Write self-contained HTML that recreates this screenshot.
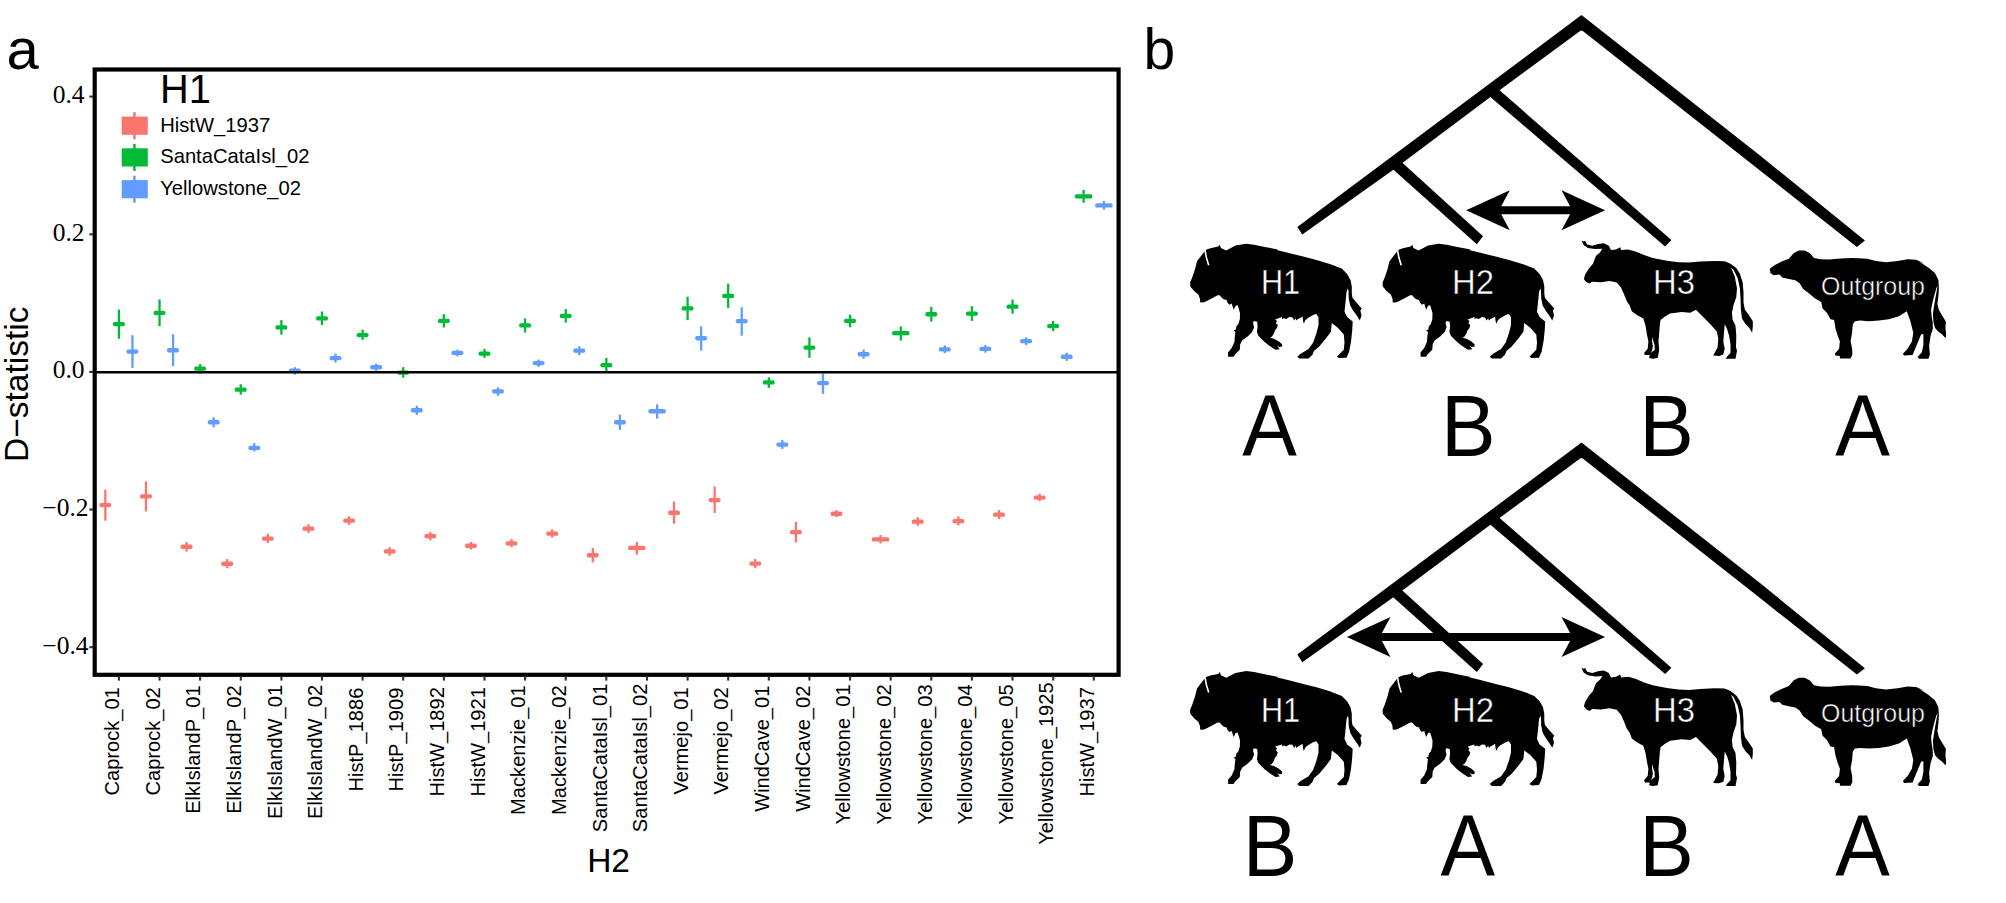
<!DOCTYPE html>
<html><head><meta charset="utf-8"><title>Figure</title>
<style>
html,body{margin:0;padding:0;background:#fff}
svg{display:block}
.san{font-family:"Liberation Sans",sans-serif}
.ser{font-family:"Liberation Serif",serif}
</style></head><body>
<svg width="2006" height="903" viewBox="0 0 2006 903">
<rect width="2006" height="903" fill="#fff"/>
<rect x="99.4" y="502.9" width="11.8" height="4.3" rx="1.6" fill="#F8766D"/>
<rect x="104.21" y="489.7" width="2.3" height="31.0" fill="#F8766D"/>
<rect x="113.0" y="322.0" width="11.8" height="4.3" rx="1.6" fill="#00BA38"/>
<rect x="117.75" y="309.6" width="2.3" height="29.2" fill="#00BA38"/>
<rect x="126.5" y="349.4" width="11.8" height="4.3" rx="1.6" fill="#619CFF"/>
<rect x="131.29" y="335.2" width="2.3" height="32.7" fill="#619CFF"/>
<rect x="140.1" y="494.2" width="11.8" height="4.3" rx="1.6" fill="#F8766D"/>
<rect x="144.83" y="481.5" width="2.3" height="30.0" fill="#F8766D"/>
<rect x="153.6" y="310.8" width="11.8" height="4.3" rx="1.6" fill="#00BA38"/>
<rect x="158.37" y="299.5" width="2.3" height="26.7" fill="#00BA38"/>
<rect x="167.1" y="348.1" width="11.8" height="4.3" rx="1.6" fill="#619CFF"/>
<rect x="171.91" y="334.2" width="2.3" height="31.8" fill="#619CFF"/>
<rect x="180.7" y="544.6" width="11.8" height="4.3" rx="1.6" fill="#F8766D"/>
<rect x="185.45" y="542.0" width="2.3" height="9.6" fill="#F8766D"/>
<rect x="194.2" y="366.4" width="11.8" height="4.3" rx="1.6" fill="#00BA38"/>
<rect x="198.99" y="364.1" width="2.3" height="9.5" fill="#00BA38"/>
<rect x="207.8" y="420.1" width="11.8" height="4.3" rx="1.6" fill="#619CFF"/>
<rect x="212.53" y="417.3" width="2.3" height="10.1" fill="#619CFF"/>
<rect x="221.3" y="561.6" width="11.8" height="4.3" rx="1.6" fill="#F8766D"/>
<rect x="226.07" y="559.1" width="2.3" height="9.1" fill="#F8766D"/>
<rect x="234.8" y="387.5" width="11.8" height="4.3" rx="1.6" fill="#00BA38"/>
<rect x="239.61" y="384.3" width="2.3" height="10.3" fill="#00BA38"/>
<rect x="248.4" y="445.8" width="11.8" height="4.3" rx="1.6" fill="#619CFF"/>
<rect x="253.15" y="443.2" width="2.3" height="8.2" fill="#619CFF"/>
<rect x="261.9" y="536.4" width="11.8" height="4.3" rx="1.6" fill="#F8766D"/>
<rect x="266.69" y="533.8" width="2.3" height="9.3" fill="#F8766D"/>
<rect x="275.5" y="325.2" width="11.8" height="4.3" rx="1.6" fill="#00BA38"/>
<rect x="280.23" y="320.1" width="2.3" height="14.5" fill="#00BA38"/>
<rect x="289.0" y="368.5" width="11.8" height="4.3" rx="1.6" fill="#619CFF"/>
<rect x="293.77" y="367.2" width="2.3" height="7.4" fill="#619CFF"/>
<rect x="302.5" y="526.5" width="11.8" height="4.3" rx="1.6" fill="#F8766D"/>
<rect x="307.31" y="524.2" width="2.3" height="8.7" fill="#F8766D"/>
<rect x="316.1" y="316.2" width="11.8" height="4.3" rx="1.6" fill="#00BA38"/>
<rect x="320.85" y="311.5" width="2.3" height="13.6" fill="#00BA38"/>
<rect x="329.6" y="355.9" width="11.8" height="4.3" rx="1.6" fill="#619CFF"/>
<rect x="334.39" y="353.6" width="2.3" height="9.0" fill="#619CFF"/>
<rect x="343.2" y="518.4" width="11.8" height="4.3" rx="1.6" fill="#F8766D"/>
<rect x="347.93" y="516.2" width="2.3" height="8.7" fill="#F8766D"/>
<rect x="356.7" y="332.9" width="11.8" height="4.3" rx="1.6" fill="#00BA38"/>
<rect x="361.47" y="329.6" width="2.3" height="10.3" fill="#00BA38"/>
<rect x="370.2" y="365.1" width="11.8" height="4.3" rx="1.6" fill="#619CFF"/>
<rect x="375.01" y="363.7" width="2.3" height="7.3" fill="#619CFF"/>
<rect x="383.8" y="549.2" width="11.8" height="4.3" rx="1.6" fill="#F8766D"/>
<rect x="388.55" y="547.2" width="2.3" height="8.6" fill="#F8766D"/>
<rect x="397.3" y="370.4" width="11.8" height="4.3" rx="1.6" fill="#00BA38"/>
<rect x="402.09" y="367.2" width="2.3" height="10.6" fill="#00BA38"/>
<rect x="410.9" y="408.1" width="11.8" height="4.3" rx="1.6" fill="#619CFF"/>
<rect x="415.63" y="405.8" width="2.3" height="9.0" fill="#619CFF"/>
<rect x="424.4" y="534.0" width="11.8" height="4.3" rx="1.6" fill="#F8766D"/>
<rect x="429.17" y="531.9" width="2.3" height="8.5" fill="#F8766D"/>
<rect x="437.9" y="318.8" width="11.8" height="4.3" rx="1.6" fill="#00BA38"/>
<rect x="442.71" y="314.2" width="2.3" height="13.3" fill="#00BA38"/>
<rect x="451.5" y="350.8" width="11.8" height="4.3" rx="1.6" fill="#619CFF"/>
<rect x="456.25" y="349.6" width="2.3" height="6.7" fill="#619CFF"/>
<rect x="465.0" y="543.6" width="11.8" height="4.3" rx="1.6" fill="#F8766D"/>
<rect x="469.79" y="542.0" width="2.3" height="7.5" fill="#F8766D"/>
<rect x="478.6" y="351.5" width="11.8" height="4.3" rx="1.6" fill="#00BA38"/>
<rect x="483.33" y="348.9" width="2.3" height="8.9" fill="#00BA38"/>
<rect x="492.1" y="389.2" width="11.8" height="4.3" rx="1.6" fill="#619CFF"/>
<rect x="496.87" y="387.4" width="2.3" height="8.3" fill="#619CFF"/>
<rect x="505.6" y="541.2" width="11.8" height="4.3" rx="1.6" fill="#F8766D"/>
<rect x="510.41" y="539.0" width="2.3" height="8.2" fill="#F8766D"/>
<rect x="519.2" y="323.2" width="11.8" height="4.3" rx="1.6" fill="#00BA38"/>
<rect x="523.95" y="318.4" width="2.3" height="14.1" fill="#00BA38"/>
<rect x="532.7" y="360.9" width="11.8" height="4.3" rx="1.6" fill="#619CFF"/>
<rect x="537.49" y="359.5" width="2.3" height="7.3" fill="#619CFF"/>
<rect x="546.3" y="531.5" width="11.8" height="4.3" rx="1.6" fill="#F8766D"/>
<rect x="551.03" y="529.3" width="2.3" height="8.3" fill="#F8766D"/>
<rect x="559.8" y="313.8" width="11.8" height="4.3" rx="1.6" fill="#00BA38"/>
<rect x="564.57" y="309.1" width="2.3" height="13.5" fill="#00BA38"/>
<rect x="573.3" y="348.5" width="11.8" height="4.3" rx="1.6" fill="#619CFF"/>
<rect x="578.11" y="346.2" width="2.3" height="8.8" fill="#619CFF"/>
<rect x="586.9" y="553.1" width="11.8" height="4.3" rx="1.6" fill="#F8766D"/>
<rect x="591.65" y="548.1" width="2.3" height="14.3" fill="#F8766D"/>
<rect x="600.4" y="363.0" width="11.8" height="4.3" rx="1.6" fill="#00BA38"/>
<rect x="605.19" y="358.0" width="2.3" height="13.7" fill="#00BA38"/>
<rect x="614.0" y="420.1" width="11.8" height="4.3" rx="1.6" fill="#619CFF"/>
<rect x="618.73" y="414.6" width="2.3" height="15.4" fill="#619CFF"/>
<rect x="628.1" y="545.8" width="17.4" height="4.3" rx="1.6" fill="#F8766D"/>
<rect x="635.65" y="541.7" width="2.3" height="12.9" fill="#F8766D"/>
<rect x="648.4" y="409.1" width="17.4" height="4.3" rx="1.6" fill="#619CFF"/>
<rect x="655.96" y="404.3" width="2.3" height="14.3" fill="#619CFF"/>
<rect x="668.1" y="510.6" width="11.8" height="4.3" rx="1.6" fill="#F8766D"/>
<rect x="672.89" y="501.5" width="2.3" height="22.2" fill="#F8766D"/>
<rect x="681.7" y="306.2" width="11.8" height="4.3" rx="1.6" fill="#00BA38"/>
<rect x="686.43" y="296.7" width="2.3" height="23.4" fill="#00BA38"/>
<rect x="695.2" y="336.1" width="11.8" height="4.3" rx="1.6" fill="#619CFF"/>
<rect x="699.97" y="326.4" width="2.3" height="24.2" fill="#619CFF"/>
<rect x="708.7" y="497.9" width="11.8" height="4.3" rx="1.6" fill="#F8766D"/>
<rect x="713.51" y="486.5" width="2.3" height="26.4" fill="#F8766D"/>
<rect x="722.3" y="293.8" width="11.8" height="4.3" rx="1.6" fill="#00BA38"/>
<rect x="727.05" y="283.7" width="2.3" height="24.2" fill="#00BA38"/>
<rect x="735.8" y="319.0" width="11.8" height="4.3" rx="1.6" fill="#619CFF"/>
<rect x="740.59" y="307.3" width="2.3" height="28.4" fill="#619CFF"/>
<rect x="749.4" y="561.4" width="11.8" height="4.3" rx="1.6" fill="#F8766D"/>
<rect x="754.13" y="558.9" width="2.3" height="9.3" fill="#F8766D"/>
<rect x="762.9" y="380.2" width="11.8" height="4.3" rx="1.6" fill="#00BA38"/>
<rect x="767.67" y="377.3" width="2.3" height="10.6" fill="#00BA38"/>
<rect x="776.4" y="442.4" width="11.8" height="4.3" rx="1.6" fill="#619CFF"/>
<rect x="781.21" y="440.1" width="2.3" height="8.8" fill="#619CFF"/>
<rect x="790.0" y="530.0" width="11.8" height="4.3" rx="1.6" fill="#F8766D"/>
<rect x="794.75" y="521.9" width="2.3" height="20.5" fill="#F8766D"/>
<rect x="803.5" y="345.4" width="11.8" height="4.3" rx="1.6" fill="#00BA38"/>
<rect x="808.29" y="337.4" width="2.3" height="20.4" fill="#00BA38"/>
<rect x="817.1" y="380.9" width="11.8" height="4.3" rx="1.6" fill="#619CFF"/>
<rect x="821.83" y="373.6" width="2.3" height="20.2" fill="#619CFF"/>
<rect x="830.6" y="511.6" width="11.8" height="4.3" rx="1.6" fill="#F8766D"/>
<rect x="835.37" y="510.1" width="2.3" height="7.1" fill="#F8766D"/>
<rect x="844.1" y="318.8" width="11.8" height="4.3" rx="1.6" fill="#00BA38"/>
<rect x="848.91" y="314.6" width="2.3" height="12.7" fill="#00BA38"/>
<rect x="857.7" y="352.1" width="11.8" height="4.3" rx="1.6" fill="#619CFF"/>
<rect x="862.45" y="349.6" width="2.3" height="9.2" fill="#619CFF"/>
<rect x="871.8" y="537.2" width="17.4" height="4.3" rx="1.6" fill="#F8766D"/>
<rect x="879.38" y="535.0" width="2.3" height="8.4" fill="#F8766D"/>
<rect x="892.1" y="331.0" width="17.4" height="4.3" rx="1.6" fill="#00BA38"/>
<rect x="899.68" y="326.4" width="2.3" height="14.1" fill="#00BA38"/>
<rect x="911.8" y="519.5" width="11.8" height="4.3" rx="1.6" fill="#F8766D"/>
<rect x="916.61" y="517.2" width="2.3" height="8.6" fill="#F8766D"/>
<rect x="925.4" y="312.1" width="11.8" height="4.3" rx="1.6" fill="#00BA38"/>
<rect x="930.15" y="306.8" width="2.3" height="14.8" fill="#00BA38"/>
<rect x="938.9" y="347.2" width="11.8" height="4.3" rx="1.6" fill="#619CFF"/>
<rect x="943.69" y="345.4" width="2.3" height="7.7" fill="#619CFF"/>
<rect x="952.5" y="519.0" width="11.8" height="4.3" rx="1.6" fill="#F8766D"/>
<rect x="957.23" y="516.4" width="2.3" height="9.0" fill="#F8766D"/>
<rect x="966.0" y="311.5" width="11.8" height="4.3" rx="1.6" fill="#00BA38"/>
<rect x="970.77" y="306.2" width="2.3" height="14.7" fill="#00BA38"/>
<rect x="979.5" y="346.8" width="11.8" height="4.3" rx="1.6" fill="#619CFF"/>
<rect x="984.31" y="345.1" width="2.3" height="7.6" fill="#619CFF"/>
<rect x="993.1" y="512.5" width="11.8" height="4.3" rx="1.6" fill="#F8766D"/>
<rect x="997.85" y="510.1" width="2.3" height="8.9" fill="#F8766D"/>
<rect x="1006.6" y="304.5" width="11.8" height="4.3" rx="1.6" fill="#00BA38"/>
<rect x="1011.39" y="299.5" width="2.3" height="14.3" fill="#00BA38"/>
<rect x="1020.2" y="339.0" width="11.8" height="4.3" rx="1.6" fill="#619CFF"/>
<rect x="1024.93" y="337.4" width="2.3" height="7.7" fill="#619CFF"/>
<rect x="1033.7" y="495.4" width="11.8" height="4.3" rx="1.6" fill="#F8766D"/>
<rect x="1038.47" y="493.7" width="2.3" height="7.5" fill="#F8766D"/>
<rect x="1047.2" y="323.9" width="11.8" height="4.3" rx="1.6" fill="#00BA38"/>
<rect x="1052.01" y="320.9" width="2.3" height="10.1" fill="#00BA38"/>
<rect x="1060.8" y="354.6" width="11.8" height="4.3" rx="1.6" fill="#619CFF"/>
<rect x="1065.55" y="352.7" width="2.3" height="8.2" fill="#619CFF"/>
<rect x="1074.9" y="194.3" width="17.4" height="4.3" rx="1.6" fill="#00BA38"/>
<rect x="1082.47" y="189.9" width="2.3" height="12.9" fill="#00BA38"/>
<rect x="1095.2" y="203.2" width="17.4" height="4.3" rx="1.6" fill="#619CFF"/>
<rect x="1102.78" y="200.9" width="2.3" height="8.7" fill="#619CFF"/>
<line x1="95" y1="372.3" x2="1118" y2="372.3" stroke="#000" stroke-width="2.6"/>
<rect x="94.7" y="69.5" width="1023.9" height="605.3" fill="none" stroke="#000" stroke-width="4.2"/>
<line x1="89.3" y1="96.6" x2="93" y2="96.6" stroke="#333" stroke-width="2.1"/>
<text x="84.5" y="103.1" text-anchor="end" class="ser" font-size="25.5">0.4</text>
<line x1="89.3" y1="234.3" x2="93" y2="234.3" stroke="#333" stroke-width="2.1"/>
<text x="84.5" y="240.8" text-anchor="end" class="ser" font-size="25.5">0.2</text>
<line x1="89.3" y1="371.9" x2="93" y2="371.9" stroke="#333" stroke-width="2.1"/>
<text x="84.5" y="378.4" text-anchor="end" class="ser" font-size="25.5">0.0</text>
<line x1="89.3" y1="509.5" x2="93" y2="509.5" stroke="#333" stroke-width="2.1"/>
<text x="88.6" y="516.0" text-anchor="end" class="ser" font-size="25.5">−0.2</text>
<line x1="89.3" y1="647.2" x2="93" y2="647.2" stroke="#333" stroke-width="2.1"/>
<text x="88.6" y="653.7" text-anchor="end" class="ser" font-size="25.5">−0.4</text>
<line x1="118.9" y1="676.5" x2="118.9" y2="680.6" stroke="#333" stroke-width="2.1"/>
<text transform="translate(119.1,687.2) rotate(-90)" text-anchor="end" class="san" font-size="20.1">Caprock_01</text>
<line x1="159.5" y1="676.5" x2="159.5" y2="680.6" stroke="#333" stroke-width="2.1"/>
<text transform="translate(159.7,687.2) rotate(-90)" text-anchor="end" class="san" font-size="20.1">Caprock_02</text>
<line x1="200.1" y1="676.5" x2="200.1" y2="680.6" stroke="#333" stroke-width="2.1"/>
<text transform="translate(200.3,685.4) rotate(-90)" text-anchor="end" class="san" font-size="20.1">ElkIslandP_01</text>
<line x1="240.8" y1="676.5" x2="240.8" y2="680.6" stroke="#333" stroke-width="2.1"/>
<text transform="translate(241.0,685.4) rotate(-90)" text-anchor="end" class="san" font-size="20.1">ElkIslandP_02</text>
<line x1="281.4" y1="676.5" x2="281.4" y2="680.6" stroke="#333" stroke-width="2.1"/>
<text transform="translate(281.6,684.9) rotate(-90)" text-anchor="end" class="san" font-size="20.1">ElkIslandW_01</text>
<line x1="322.0" y1="676.5" x2="322.0" y2="680.6" stroke="#333" stroke-width="2.1"/>
<text transform="translate(322.2,684.9) rotate(-90)" text-anchor="end" class="san" font-size="20.1">ElkIslandW_02</text>
<line x1="362.6" y1="676.5" x2="362.6" y2="680.6" stroke="#333" stroke-width="2.1"/>
<text transform="translate(362.8,687.6) rotate(-90)" text-anchor="end" class="san" font-size="20.1">HistP_1886</text>
<line x1="403.2" y1="676.5" x2="403.2" y2="680.6" stroke="#333" stroke-width="2.1"/>
<text transform="translate(403.4,687.6) rotate(-90)" text-anchor="end" class="san" font-size="20.1">HistP_1909</text>
<line x1="443.9" y1="676.5" x2="443.9" y2="680.6" stroke="#333" stroke-width="2.1"/>
<text transform="translate(444.1,687.1) rotate(-90)" text-anchor="end" class="san" font-size="20.1">HistW_1892</text>
<line x1="484.5" y1="676.5" x2="484.5" y2="680.6" stroke="#333" stroke-width="2.1"/>
<text transform="translate(484.7,687.1) rotate(-90)" text-anchor="end" class="san" font-size="20.1">HistW_1921</text>
<line x1="525.1" y1="676.5" x2="525.1" y2="680.6" stroke="#333" stroke-width="2.1"/>
<text transform="translate(525.3,685.3) rotate(-90)" text-anchor="end" class="san" font-size="20.1">Mackenzie_01</text>
<line x1="565.7" y1="676.5" x2="565.7" y2="680.6" stroke="#333" stroke-width="2.1"/>
<text transform="translate(565.9,685.3) rotate(-90)" text-anchor="end" class="san" font-size="20.1">Mackenzie_02</text>
<line x1="606.3" y1="676.5" x2="606.3" y2="680.6" stroke="#333" stroke-width="2.1"/>
<text transform="translate(606.5,683.6) rotate(-90)" text-anchor="end" class="san" font-size="20.1">SantaCataIsl_01</text>
<line x1="647.0" y1="676.5" x2="647.0" y2="680.6" stroke="#333" stroke-width="2.1"/>
<text transform="translate(647.2,683.6) rotate(-90)" text-anchor="end" class="san" font-size="20.1">SantaCataIsl_02</text>
<line x1="687.6" y1="676.5" x2="687.6" y2="680.6" stroke="#333" stroke-width="2.1"/>
<text transform="translate(687.8,687.3) rotate(-90)" text-anchor="end" class="san" font-size="20.1">Vermejo_01</text>
<line x1="728.2" y1="676.5" x2="728.2" y2="680.6" stroke="#333" stroke-width="2.1"/>
<text transform="translate(728.4,687.3) rotate(-90)" text-anchor="end" class="san" font-size="20.1">Vermejo_02</text>
<line x1="768.8" y1="676.5" x2="768.8" y2="680.6" stroke="#333" stroke-width="2.1"/>
<text transform="translate(769.0,685.6) rotate(-90)" text-anchor="end" class="san" font-size="20.1">WindCave_01</text>
<line x1="809.4" y1="676.5" x2="809.4" y2="680.6" stroke="#333" stroke-width="2.1"/>
<text transform="translate(809.6,685.6) rotate(-90)" text-anchor="end" class="san" font-size="20.1">WindCave_02</text>
<line x1="850.1" y1="676.5" x2="850.1" y2="680.6" stroke="#333" stroke-width="2.1"/>
<text transform="translate(850.3,684.4) rotate(-90)" text-anchor="end" class="san" font-size="20.1">Yellowstone_01</text>
<line x1="890.7" y1="676.5" x2="890.7" y2="680.6" stroke="#333" stroke-width="2.1"/>
<text transform="translate(890.9,684.4) rotate(-90)" text-anchor="end" class="san" font-size="20.1">Yellowstone_02</text>
<line x1="931.3" y1="676.5" x2="931.3" y2="680.6" stroke="#333" stroke-width="2.1"/>
<text transform="translate(931.5,684.4) rotate(-90)" text-anchor="end" class="san" font-size="20.1">Yellowstone_03</text>
<line x1="971.9" y1="676.5" x2="971.9" y2="680.6" stroke="#333" stroke-width="2.1"/>
<text transform="translate(972.1,684.4) rotate(-90)" text-anchor="end" class="san" font-size="20.1">Yellowstone_04</text>
<line x1="1012.5" y1="676.5" x2="1012.5" y2="680.6" stroke="#333" stroke-width="2.1"/>
<text transform="translate(1012.7,684.4) rotate(-90)" text-anchor="end" class="san" font-size="20.1">Yellowstone_05</text>
<line x1="1053.2" y1="676.5" x2="1053.2" y2="680.6" stroke="#333" stroke-width="2.1"/>
<text transform="translate(1053.4,682.4) rotate(-90)" text-anchor="end" class="san" font-size="20.1">Yellowstone_1925</text>
<line x1="1093.8" y1="676.5" x2="1093.8" y2="680.6" stroke="#333" stroke-width="2.1"/>
<text transform="translate(1094.0,687.1) rotate(-90)" text-anchor="end" class="san" font-size="20.1">HistW_1937</text>
<text transform="translate(28.4,384.3) rotate(-90)" text-anchor="middle" class="san" font-size="33.5">D−statistic</text>
<text x="608.6" y="871.8" text-anchor="middle" class="san" font-size="33.6">H2</text>
<text x="6.5" y="69" class="san" font-size="58">a</text>
<text x="1143.5" y="68.5" class="san" font-size="57">b</text>
<text x="159.9" y="103.4" class="san" font-size="39.8">H1</text>
<rect x="121.7" y="116.6" width="26.1" height="18.2" fill="#F8766D"/>
<rect x="133.2" y="112.2" width="2.5" height="27" fill="#F8766D"/>
<text x="160.2" y="131.7" class="san" font-size="20.2">HistW_1937</text>
<rect x="121.7" y="148.3" width="26.1" height="18.2" fill="#00BA38"/>
<rect x="133.2" y="143.9" width="2.5" height="27" fill="#00BA38"/>
<text x="160.2" y="163.4" class="san" font-size="20.2">SantaCataIsl_02</text>
<rect x="121.7" y="180.1" width="26.1" height="18.2" fill="#619CFF"/>
<rect x="133.2" y="175.7" width="2.5" height="27" fill="#619CFF"/>
<text x="160.2" y="195.2" class="san" font-size="20.2">Yellowstone_02</text>
<g fill="#000">
<path d="M1581.5 15.0 L1297.3 227.0 L1302.3 234.6 L1393.0 169.9 L1490.4 97.1 L1581.5 29.9Z" />
<path d="M1581.5 15.0 L1760.0 155.5 L1864.9 240.6 L1856.9 247.0 L1760.0 170.5 L1581.5 29.9Z" />
<path d="M1580.5 15.8 L1582.5 15.8 L1582.5 30.6 L1580.5 30.6Z" />
<path d="M1402.1 162.6 L1483.1 236.3 L1476.8 244.3 L1393.2 169.6 L1393.0 164.0Z" />
<path d="M1499.3 90.1 L1671.4 240.1 L1665.1 246.4 L1490.4 97.1 L1492.0 90.0Z" />
<path d="M1205.6 250.0 L1210.3 248.2 L1218.2 246.6 L1219.8 244.7 L1220.9 248.0 L1226.2 250.4 L1235.5 245.6 L1246.2 243.7 L1254.1 244.8 L1264.8 246.9 L1278.1 249.6 L1276.6 250.0 L1289.9 253.3 L1303.2 256.6 L1316.5 259.9 L1329.8 263.9 L1341.8 268.6 L1347.1 273.9 L1350.5 279.9 L1351.8 286.5 L1351.8 293.2 L1352.4 297.8 L1356.4 302.5 L1361.8 308.5 L1360.4 310.5 L1361.5 315.8 L1359.8 320.5 L1357.1 316.1 L1353.1 310.5 L1350.2 305.4 L1348.7 298.5 L1348.5 290.5 L1347.8 288.5 L1346.5 291.9 L1345.8 299.8 L1344.5 311.8 L1347.1 317.1 L1352.7 321.4 L1352.2 330.4 L1351.1 341.1 L1349.1 351.7 L1346.5 357.7 L1339.1 358.1 L1336.9 356.8 L1340.5 353.0 L1343.8 349.7 L1344.5 342.4 L1343.8 334.4 L1337.8 327.8 L1331.8 323.1 L1330.9 331.8 L1325.9 338.4 L1319.2 346.4 L1313.9 351.0 L1312.6 354.4 L1308.6 358.6 L1299.3 358.6 L1297.3 356.8 L1300.6 353.7 L1308.6 349.0 L1313.2 342.4 L1316.5 333.1 L1318.5 325.1 L1318.5 317.1 L1316.5 314.2 L1315.8 314.0 L1312.7 315.2 L1308.0 317.9 L1305.3 320.2 L1303.8 323.7 L1303.0 320.6 L1302.6 316.4 L1300.3 317.9 L1297.9 319.1 L1296.4 320.6 L1295.6 318.3 L1294.1 320.6 L1292.5 317.5 L1289.4 317.1 L1286.3 319.1 L1284.0 318.3 L1282.4 319.1 L1281.7 317.1 L1279.3 317.9 L1277.0 318.8 L1275.1 319.5 L1277.0 321.0 L1275.9 323.3 L1277.8 324.9 L1277.0 328.0 L1275.1 330.3 L1273.9 333.4 L1272.0 336.5 L1270.0 337.7 L1273.9 338.8 L1278.6 341.2 L1282.1 344.3 L1282.1 346.6 L1279.3 347.0 L1277.0 345.4 L1279.7 349.3 L1275.5 349.7 L1269.3 345.8 L1264.6 341.9 L1258.4 335.7 L1256.9 331.9 L1257.6 326.4 L1257.2 321.8 L1253.8 321.0 L1253.0 322.9 L1254.1 327.2 L1252.2 331.9 L1247.6 336.5 L1242.1 340.4 L1240.2 344.3 L1239.8 349.7 L1235.2 354.3 L1233.6 356.7 L1228.2 356.8 L1228.0 352.4 L1231.7 348.1 L1234.4 341.9 L1235.0 335.0 L1235.5 331.9 L1233.6 330.3 L1235.9 329.5 L1236.3 326.4 L1238.3 324.1 L1239.8 319.5 L1240.0 313.3 L1239.0 309.4 L1237.5 305.1 L1235.5 305.9 L1233.6 309.8 L1231.7 303.6 L1229.3 304.7 L1227.4 302.4 L1226.6 300.1 L1223.5 299.3 L1221.6 297.4 L1219.7 295.3 L1217.6 295.2 L1211.6 298.5 L1204.3 302.2 L1200.3 302.5 L1199.9 298.5 L1198.3 294.5 L1194.3 291.2 L1190.3 286.5 L1190.1 282.6 L1192.3 277.2 L1195.0 269.3 L1197.0 261.3 L1201.0 256.0Z" />
<path d="M1398.1 250.0 L1402.8 248.2 L1410.7 246.6 L1412.3 244.7 L1413.4 248.0 L1418.7 250.4 L1428.0 245.6 L1438.7 243.7 L1446.6 244.8 L1457.3 246.9 L1470.6 249.6 L1469.1 250.0 L1482.4 253.3 L1495.7 256.6 L1509.0 259.9 L1522.3 263.9 L1534.3 268.6 L1539.6 273.9 L1543.0 279.9 L1544.3 286.5 L1544.3 293.2 L1544.9 297.8 L1548.9 302.5 L1554.3 308.5 L1552.9 310.5 L1554.0 315.8 L1552.3 320.5 L1549.6 316.1 L1545.6 310.5 L1542.7 305.4 L1541.2 298.5 L1541.0 290.5 L1540.3 288.5 L1539.0 291.9 L1538.3 299.8 L1537.0 311.8 L1539.6 317.1 L1545.2 321.4 L1544.7 330.4 L1543.6 341.1 L1541.6 351.7 L1539.0 357.7 L1531.6 358.1 L1529.4 356.8 L1533.0 353.0 L1536.3 349.7 L1537.0 342.4 L1536.3 334.4 L1530.3 327.8 L1524.3 323.1 L1523.4 331.8 L1518.4 338.4 L1511.7 346.4 L1506.4 351.0 L1505.1 354.4 L1501.1 358.6 L1491.8 358.6 L1489.8 356.8 L1493.1 353.7 L1501.1 349.0 L1505.7 342.4 L1509.0 333.1 L1511.0 325.1 L1511.0 317.1 L1509.0 314.2 L1508.3 314.0 L1505.2 315.2 L1500.5 317.9 L1497.8 320.2 L1496.3 323.7 L1495.5 320.6 L1495.1 316.4 L1492.8 317.9 L1490.4 319.1 L1488.9 320.6 L1488.1 318.3 L1486.6 320.6 L1485.0 317.5 L1481.9 317.1 L1478.8 319.1 L1476.5 318.3 L1474.9 319.1 L1474.2 317.1 L1471.8 317.9 L1469.5 318.8 L1467.6 319.5 L1469.5 321.0 L1468.4 323.3 L1470.3 324.9 L1469.5 328.0 L1467.6 330.3 L1466.4 333.4 L1464.5 336.5 L1462.5 337.7 L1466.4 338.8 L1471.1 341.2 L1474.6 344.3 L1474.6 346.6 L1471.8 347.0 L1469.5 345.4 L1472.2 349.3 L1468.0 349.7 L1461.8 345.8 L1457.1 341.9 L1450.9 335.7 L1449.4 331.9 L1450.1 326.4 L1449.7 321.8 L1446.3 321.0 L1445.5 322.9 L1446.6 327.2 L1444.7 331.9 L1440.1 336.5 L1434.6 340.4 L1432.7 344.3 L1432.3 349.7 L1427.7 354.3 L1426.1 356.7 L1420.7 356.8 L1420.5 352.4 L1424.2 348.1 L1426.9 341.9 L1427.5 335.0 L1428.0 331.9 L1426.1 330.3 L1428.4 329.5 L1428.8 326.4 L1430.8 324.1 L1432.3 319.5 L1432.5 313.3 L1431.5 309.4 L1430.0 305.1 L1428.0 305.9 L1426.1 309.8 L1424.2 303.6 L1421.8 304.7 L1419.9 302.4 L1419.1 300.1 L1416.0 299.3 L1414.1 297.4 L1412.2 295.3 L1410.1 295.2 L1404.1 298.5 L1396.8 302.2 L1392.8 302.5 L1392.4 298.5 L1390.8 294.5 L1386.8 291.2 L1382.8 286.5 L1382.6 282.6 L1384.8 277.2 L1387.5 269.3 L1389.5 261.3 L1393.5 256.0Z" />
<path d="M1581.5 240.5 L1583.6 241.5 L1585.1 240.8 L1587.2 244.4 L1592.3 245.8 L1598.0 243.9 L1603.8 243.3 L1608.8 245.8 L1611.0 250.1 L1616.0 249.4 L1620.3 247.2 L1621.0 250.1 L1628.2 249.4 L1635.4 251.5 L1644.1 255.1 L1652.7 258.0 L1664.2 260.2 L1668.6 260.9 L1678.7 262.3 L1688.8 262.6 L1700.3 261.6 L1714.7 260.9 L1724.7 261.3 L1730.5 263.8 L1736.3 268.1 L1739.9 273.8 L1742.7 282.5 L1743.5 292.6 L1743.5 302.6 L1744.9 309.8 L1749.2 315.6 L1752.8 321.3 L1752.8 327.1 L1752.1 332.8 L1749.2 327.8 L1745.6 324.2 L1742.0 318.5 L1740.9 309.8 L1740.6 299.7 L1739.9 288.2 L1737.7 278.2 L1733.4 269.5 L1730.5 267.4 L1731.9 269.5 L1734.8 276.7 L1737.0 288.2 L1736.3 296.9 L1733.4 305.5 L1731.9 312.7 L1732.7 319.9 L1735.5 325.6 L1736.3 335.7 L1736.0 347.2 L1737.0 350.8 L1735.5 358.7 L1725.5 358.7 L1727.6 355.9 L1730.5 353.0 L1730.5 344.4 L1729.1 335.7 L1726.9 328.5 L1724.7 324.2 L1724.0 332.8 L1723.3 341.5 L1724.7 348.7 L1723.3 354.4 L1719.0 355.9 L1713.2 355.6 L1715.4 351.5 L1717.6 347.2 L1718.3 338.6 L1716.8 331.4 L1710.4 324.2 L1703.2 317.0 L1696.0 309.8 L1690.2 312.7 L1681.6 312.0 L1670.1 313.4 L1664.3 317.0 L1660.6 319.9 L1659.9 324.2 L1659.2 332.8 L1658.5 341.5 L1659.2 350.1 L1657.7 358.0 L1652.7 358.7 L1649.1 358.0 L1649.8 355.1 L1644.8 355.1 L1644.1 353.0 L1647.7 348.7 L1648.4 341.5 L1646.9 334.3 L1645.5 325.6 L1643.3 318.5 L1636.9 314.9 L1631.8 311.3 L1629.7 305.5 L1626.8 301.2 L1623.9 294.0 L1621.0 287.5 L1616.7 282.5 L1609.5 281.0 L1600.9 282.2 L1592.3 281.8 L1589.4 283.6 L1585.8 281.8 L1583.9 278.9 L1585.1 274.6 L1588.7 268.8 L1593.0 263.8 L1595.9 255.9 L1600.2 252.3 L1602.3 248.7 L1595.1 249.1 L1587.9 247.9 L1583.6 245.1Z" />
<path d="M1769.8 268.8 L1774.4 265.2 L1781.6 261.6 L1788.8 258.7 L1793.8 253.0 L1798.8 250.5 L1804.6 250.5 L1809.6 253.0 L1814.0 258.0 L1820.4 259.2 L1829.1 259.5 L1840.6 258.5 L1852.1 258.0 L1858.6 258.3 L1867.3 258.7 L1875.9 260.9 L1886.0 262.3 L1897.5 260.9 L1907.6 259.2 L1916.2 259.7 L1924.8 263.8 L1919.9 262.0 L1928.9 268.0 L1934.9 273.0 L1938.4 279.9 L1938.9 287.9 L1938.4 295.9 L1937.4 303.9 L1938.9 309.9 L1942.9 316.8 L1945.9 321.8 L1945.4 327.8 L1946.1 333.8 L1945.7 338.3 L1941.9 334.3 L1937.9 331.3 L1934.9 327.8 L1933.4 321.8 L1932.9 313.8 L1933.9 306.9 L1935.4 297.9 L1936.9 289.9 L1937.7 286.1 L1936.4 287.9 L1934.4 294.9 L1932.4 302.9 L1931.1 309.9 L1931.7 316.8 L1932.7 322.8 L1932.9 328.8 L1930.6 335.7 L1929.1 345.8 L1929.9 354.4 L1928.4 358.7 L1919.1 358.7 L1917.6 357.0 L1921.9 352.3 L1923.4 344.4 L1923.4 334.3 L1921.2 334.3 L1917.6 342.9 L1914.0 351.5 L1912.6 355.1 L1904.0 355.6 L1902.9 353.7 L1907.6 348.7 L1911.9 341.5 L1913.3 332.8 L1910.4 321.3 L1906.8 311.3 L1898.9 316.3 L1888.8 319.2 L1878.8 320.6 L1868.7 321.3 L1860.1 320.6 L1855.0 321.3 L1852.8 324.2 L1852.1 332.8 L1850.6 340.8 L1852.1 348.7 L1852.4 354.4 L1850.6 358.5 L1839.9 358.5 L1839.9 355.9 L1835.5 355.6 L1834.8 353.7 L1839.1 348.7 L1839.9 341.5 L1837.7 335.7 L1835.5 328.5 L1834.1 319.9 L1830.5 319.2 L1826.9 312.7 L1822.6 308.4 L1821.2 301.9 L1814.7 298.3 L1808.9 293.3 L1803.2 289.0 L1799.6 283.2 L1795.3 280.3 L1788.8 278.9 L1782.3 277.4 L1779.4 274.6 L1773.7 275.3 L1770.4 273.1Z" />
<path d="M1581.5 442.6 L1297.3 654.6 L1302.3 662.2 L1393.0 597.5 L1490.4 524.7 L1581.5 457.5Z" />
<path d="M1581.5 442.6 L1760.0 583.1 L1864.9 668.2 L1856.9 674.6 L1760.0 598.1 L1581.5 457.5Z" />
<path d="M1580.5 443.4 L1582.5 443.4 L1582.5 458.2 L1580.5 458.2Z" />
<path d="M1402.1 590.2 L1483.1 663.9 L1476.8 671.9 L1393.2 597.2 L1393.0 591.6Z" />
<path d="M1499.3 517.7 L1671.4 667.7 L1665.1 674.0 L1490.4 524.7 L1492.0 517.6Z" />
<path d="M1205.6 677.3 L1210.3 675.5 L1218.2 673.9 L1219.8 672.0 L1220.9 675.3 L1226.2 677.7 L1235.5 672.9 L1246.2 671.0 L1254.1 672.1 L1264.8 674.2 L1278.1 676.9 L1276.6 677.3 L1289.9 680.6 L1303.2 683.9 L1316.5 687.2 L1329.8 691.2 L1341.8 695.9 L1347.1 701.2 L1350.5 707.2 L1351.8 713.8 L1351.8 720.5 L1352.4 725.1 L1356.4 729.8 L1361.8 735.8 L1360.4 737.8 L1361.5 743.1 L1359.8 747.8 L1357.1 743.4 L1353.1 737.8 L1350.2 732.7 L1348.7 725.8 L1348.5 717.8 L1347.8 715.8 L1346.5 719.2 L1345.8 727.1 L1344.5 739.1 L1347.1 744.4 L1352.7 748.7 L1352.2 757.7 L1351.1 768.4 L1349.1 779.0 L1346.5 785.0 L1339.1 785.4 L1336.9 784.1 L1340.5 780.3 L1343.8 777.0 L1344.5 769.7 L1343.8 761.7 L1337.8 755.1 L1331.8 750.4 L1330.9 759.1 L1325.9 765.7 L1319.2 773.7 L1313.9 778.3 L1312.6 781.7 L1308.6 785.9 L1299.3 785.9 L1297.3 784.1 L1300.6 781.0 L1308.6 776.3 L1313.2 769.7 L1316.5 760.4 L1318.5 752.4 L1318.5 744.4 L1316.5 741.5 L1315.8 741.3 L1312.7 742.5 L1308.0 745.2 L1305.3 747.5 L1303.8 751.0 L1303.0 747.9 L1302.6 743.7 L1300.3 745.2 L1297.9 746.4 L1296.4 747.9 L1295.6 745.6 L1294.1 747.9 L1292.5 744.8 L1289.4 744.4 L1286.3 746.4 L1284.0 745.6 L1282.4 746.4 L1281.7 744.4 L1279.3 745.2 L1277.0 746.1 L1275.1 746.8 L1277.0 748.3 L1275.9 750.6 L1277.8 752.2 L1277.0 755.3 L1275.1 757.6 L1273.9 760.7 L1272.0 763.8 L1270.0 765.0 L1273.9 766.1 L1278.6 768.5 L1282.1 771.6 L1282.1 773.9 L1279.3 774.3 L1277.0 772.7 L1279.7 776.6 L1275.5 777.0 L1269.3 773.1 L1264.6 769.2 L1258.4 763.0 L1256.9 759.2 L1257.6 753.7 L1257.2 749.1 L1253.8 748.3 L1253.0 750.2 L1254.1 754.5 L1252.2 759.2 L1247.6 763.8 L1242.1 767.7 L1240.2 771.6 L1239.8 777.0 L1235.2 781.6 L1233.6 784.0 L1228.2 784.1 L1228.0 779.7 L1231.7 775.4 L1234.4 769.2 L1235.0 762.3 L1235.5 759.2 L1233.6 757.6 L1235.9 756.8 L1236.3 753.7 L1238.3 751.4 L1239.8 746.8 L1240.0 740.6 L1239.0 736.7 L1237.5 732.4 L1235.5 733.2 L1233.6 737.1 L1231.7 730.9 L1229.3 732.0 L1227.4 729.7 L1226.6 727.4 L1223.5 726.6 L1221.6 724.7 L1219.7 722.6 L1217.6 722.5 L1211.6 725.8 L1204.3 729.5 L1200.3 729.8 L1199.9 725.8 L1198.3 721.8 L1194.3 718.5 L1190.3 713.8 L1190.1 709.9 L1192.3 704.5 L1195.0 696.6 L1197.0 688.6 L1201.0 683.3Z" />
<path d="M1398.1 677.3 L1402.8 675.5 L1410.7 673.9 L1412.3 672.0 L1413.4 675.3 L1418.7 677.7 L1428.0 672.9 L1438.7 671.0 L1446.6 672.1 L1457.3 674.2 L1470.6 676.9 L1469.1 677.3 L1482.4 680.6 L1495.7 683.9 L1509.0 687.2 L1522.3 691.2 L1534.3 695.9 L1539.6 701.2 L1543.0 707.2 L1544.3 713.8 L1544.3 720.5 L1544.9 725.1 L1548.9 729.8 L1554.3 735.8 L1552.9 737.8 L1554.0 743.1 L1552.3 747.8 L1549.6 743.4 L1545.6 737.8 L1542.7 732.7 L1541.2 725.8 L1541.0 717.8 L1540.3 715.8 L1539.0 719.2 L1538.3 727.1 L1537.0 739.1 L1539.6 744.4 L1545.2 748.7 L1544.7 757.7 L1543.6 768.4 L1541.6 779.0 L1539.0 785.0 L1531.6 785.4 L1529.4 784.1 L1533.0 780.3 L1536.3 777.0 L1537.0 769.7 L1536.3 761.7 L1530.3 755.1 L1524.3 750.4 L1523.4 759.1 L1518.4 765.7 L1511.7 773.7 L1506.4 778.3 L1505.1 781.7 L1501.1 785.9 L1491.8 785.9 L1489.8 784.1 L1493.1 781.0 L1501.1 776.3 L1505.7 769.7 L1509.0 760.4 L1511.0 752.4 L1511.0 744.4 L1509.0 741.5 L1508.3 741.3 L1505.2 742.5 L1500.5 745.2 L1497.8 747.5 L1496.3 751.0 L1495.5 747.9 L1495.1 743.7 L1492.8 745.2 L1490.4 746.4 L1488.9 747.9 L1488.1 745.6 L1486.6 747.9 L1485.0 744.8 L1481.9 744.4 L1478.8 746.4 L1476.5 745.6 L1474.9 746.4 L1474.2 744.4 L1471.8 745.2 L1469.5 746.1 L1467.6 746.8 L1469.5 748.3 L1468.4 750.6 L1470.3 752.2 L1469.5 755.3 L1467.6 757.6 L1466.4 760.7 L1464.5 763.8 L1462.5 765.0 L1466.4 766.1 L1471.1 768.5 L1474.6 771.6 L1474.6 773.9 L1471.8 774.3 L1469.5 772.7 L1472.2 776.6 L1468.0 777.0 L1461.8 773.1 L1457.1 769.2 L1450.9 763.0 L1449.4 759.2 L1450.1 753.7 L1449.7 749.1 L1446.3 748.3 L1445.5 750.2 L1446.6 754.5 L1444.7 759.2 L1440.1 763.8 L1434.6 767.7 L1432.7 771.6 L1432.3 777.0 L1427.7 781.6 L1426.1 784.0 L1420.7 784.1 L1420.5 779.7 L1424.2 775.4 L1426.9 769.2 L1427.5 762.3 L1428.0 759.2 L1426.1 757.6 L1428.4 756.8 L1428.8 753.7 L1430.8 751.4 L1432.3 746.8 L1432.5 740.6 L1431.5 736.7 L1430.0 732.4 L1428.0 733.2 L1426.1 737.1 L1424.2 730.9 L1421.8 732.0 L1419.9 729.7 L1419.1 727.4 L1416.0 726.6 L1414.1 724.7 L1412.2 722.6 L1410.1 722.5 L1404.1 725.8 L1396.8 729.5 L1392.8 729.8 L1392.4 725.8 L1390.8 721.8 L1386.8 718.5 L1382.8 713.8 L1382.6 709.9 L1384.8 704.5 L1387.5 696.6 L1389.5 688.6 L1393.5 683.3Z" />
<path d="M1581.5 667.8 L1583.6 668.8 L1585.1 668.1 L1587.2 671.7 L1592.3 673.1 L1598.0 671.2 L1603.8 670.6 L1608.8 673.1 L1611.0 677.4 L1616.0 676.7 L1620.3 674.5 L1621.0 677.4 L1628.2 676.7 L1635.4 678.8 L1644.1 682.4 L1652.7 685.3 L1664.2 687.5 L1668.6 688.2 L1678.7 689.6 L1688.8 689.9 L1700.3 688.9 L1714.7 688.2 L1724.7 688.6 L1730.5 691.1 L1736.3 695.4 L1739.9 701.1 L1742.7 709.8 L1743.5 719.9 L1743.5 729.9 L1744.9 737.1 L1749.2 742.9 L1752.8 748.6 L1752.8 754.4 L1752.1 760.1 L1749.2 755.1 L1745.6 751.5 L1742.0 745.8 L1740.9 737.1 L1740.6 727.0 L1739.9 715.5 L1737.7 705.5 L1733.4 696.8 L1730.5 694.7 L1731.9 696.8 L1734.8 704.0 L1737.0 715.5 L1736.3 724.2 L1733.4 732.8 L1731.9 740.0 L1732.7 747.2 L1735.5 752.9 L1736.3 763.0 L1736.0 774.5 L1737.0 778.1 L1735.5 786.0 L1725.5 786.0 L1727.6 783.2 L1730.5 780.3 L1730.5 771.7 L1729.1 763.0 L1726.9 755.8 L1724.7 751.5 L1724.0 760.1 L1723.3 768.8 L1724.7 776.0 L1723.3 781.7 L1719.0 783.2 L1713.2 782.9 L1715.4 778.8 L1717.6 774.5 L1718.3 765.9 L1716.8 758.7 L1710.4 751.5 L1703.2 744.3 L1696.0 737.1 L1690.2 740.0 L1681.6 739.3 L1670.1 740.7 L1664.3 744.3 L1660.6 747.2 L1659.9 751.5 L1659.2 760.1 L1658.5 768.8 L1659.2 777.4 L1657.7 785.3 L1652.7 786.0 L1649.1 785.3 L1649.8 782.4 L1644.8 782.4 L1644.1 780.3 L1647.7 776.0 L1648.4 768.8 L1646.9 761.6 L1645.5 752.9 L1643.3 745.8 L1636.9 742.2 L1631.8 738.6 L1629.7 732.8 L1626.8 728.5 L1623.9 721.3 L1621.0 714.8 L1616.7 709.8 L1609.5 708.3 L1600.9 709.5 L1592.3 709.1 L1589.4 710.9 L1585.8 709.1 L1583.9 706.2 L1585.1 701.9 L1588.7 696.1 L1593.0 691.1 L1595.9 683.2 L1600.2 679.6 L1602.3 676.0 L1595.1 676.4 L1587.9 675.2 L1583.6 672.4Z" />
<path d="M1769.8 696.1 L1774.4 692.5 L1781.6 688.9 L1788.8 686.0 L1793.8 680.3 L1798.8 677.8 L1804.6 677.8 L1809.6 680.3 L1814.0 685.3 L1820.4 686.5 L1829.1 686.8 L1840.6 685.8 L1852.1 685.3 L1858.6 685.6 L1867.3 686.0 L1875.9 688.2 L1886.0 689.6 L1897.5 688.2 L1907.6 686.5 L1916.2 687.0 L1924.8 691.1 L1919.9 689.3 L1928.9 695.3 L1934.9 700.3 L1938.4 707.2 L1938.9 715.2 L1938.4 723.2 L1937.4 731.2 L1938.9 737.2 L1942.9 744.1 L1945.9 749.1 L1945.4 755.1 L1946.1 761.1 L1945.7 765.6 L1941.9 761.6 L1937.9 758.6 L1934.9 755.1 L1933.4 749.1 L1932.9 741.1 L1933.9 734.2 L1935.4 725.2 L1936.9 717.2 L1937.7 713.4 L1936.4 715.2 L1934.4 722.2 L1932.4 730.2 L1931.1 737.2 L1931.7 744.1 L1932.7 750.1 L1932.9 756.1 L1930.6 763.0 L1929.1 773.1 L1929.9 781.7 L1928.4 786.0 L1919.1 786.0 L1917.6 784.3 L1921.9 779.6 L1923.4 771.7 L1923.4 761.6 L1921.2 761.6 L1917.6 770.2 L1914.0 778.8 L1912.6 782.4 L1904.0 782.9 L1902.9 781.0 L1907.6 776.0 L1911.9 768.8 L1913.3 760.1 L1910.4 748.6 L1906.8 738.6 L1898.9 743.6 L1888.8 746.5 L1878.8 747.9 L1868.7 748.6 L1860.1 747.9 L1855.0 748.6 L1852.8 751.5 L1852.1 760.1 L1850.6 768.1 L1852.1 776.0 L1852.4 781.7 L1850.6 785.8 L1839.9 785.8 L1839.9 783.2 L1835.5 782.9 L1834.8 781.0 L1839.1 776.0 L1839.9 768.8 L1837.7 763.0 L1835.5 755.8 L1834.1 747.2 L1830.5 746.5 L1826.9 740.0 L1822.6 735.7 L1821.2 729.2 L1814.7 725.6 L1808.9 720.6 L1803.2 716.3 L1799.6 710.5 L1795.3 707.6 L1788.8 706.2 L1782.3 704.7 L1779.4 701.9 L1773.7 702.6 L1770.4 700.4Z" />
<path d="M1466.2 210.2 L1509.8 190.2 L1501.2 206.2 L1570.1 206.2 L1561.5 190.2 L1605.1 210.2 L1561.5 230.2 L1570.1 214.2 L1501.2 214.2 L1509.8 230.2Z" />
<path d="M1346.9 637.0 L1390.5 617.0 L1381.9 633.0 L1570.1 633.0 L1561.5 617.0 L1605.1 637.0 L1561.5 657.0 L1570.1 641.0 L1381.9 641.0 L1390.5 657.0Z" />
</g>
<path d="M1652.0 336.7 L1653.0 340.3 L1654.5 344.6 L1654.8 349.7 L1651.6 352.2 L1650.9 353.3 L1652.3 349.7 L1652.9 346.1 L1652.0 341.0Z" fill="#fff"/>
<path d="M1204.9 249.3 L1206.3 257.3 L1208.7 265.3" fill="none" stroke="#fff" stroke-width="1.6"/>
<path d="M1397.4 249.3 L1398.8 257.3 L1401.2 265.3" fill="none" stroke="#fff" stroke-width="1.6"/>
<text x="1280.5" y="294.2" text-anchor="middle" class="san" fill="#fff" stroke="#000" stroke-width="0.45" font-size="35.2" textLength="39.2" lengthAdjust="spacingAndGlyphs">H1</text>
<text x="1473" y="294.2" text-anchor="middle" class="san" fill="#fff" stroke="#000" stroke-width="0.45" font-size="35.2" textLength="42" lengthAdjust="spacingAndGlyphs">H2</text>
<text x="1674" y="294.2" text-anchor="middle" class="san" fill="#fff" stroke="#000" stroke-width="0.45" font-size="35.2" textLength="42" lengthAdjust="spacingAndGlyphs">H3</text>
<text x="1873" y="294.8" text-anchor="middle" class="san" fill="#fff" stroke="#000" stroke-width="0.5" font-size="25" textLength="104" lengthAdjust="spacingAndGlyphs">Outgroup</text>
<path d="M1652.0 764.0 L1653.0 767.6 L1654.5 771.9 L1654.8 777.0 L1651.6 779.5 L1650.9 780.6 L1652.3 777.0 L1652.9 773.4 L1652.0 768.3Z" fill="#fff"/>
<path d="M1204.9 676.6 L1206.3 684.6 L1208.7 692.6" fill="none" stroke="#fff" stroke-width="1.6"/>
<path d="M1397.4 676.6 L1398.8 684.6 L1401.2 692.6" fill="none" stroke="#fff" stroke-width="1.6"/>
<text x="1280.5" y="721.5" text-anchor="middle" class="san" fill="#fff" stroke="#000" stroke-width="0.45" font-size="35.2" textLength="39.2" lengthAdjust="spacingAndGlyphs">H1</text>
<text x="1473" y="721.5" text-anchor="middle" class="san" fill="#fff" stroke="#000" stroke-width="0.45" font-size="35.2" textLength="42" lengthAdjust="spacingAndGlyphs">H2</text>
<text x="1674" y="721.5" text-anchor="middle" class="san" fill="#fff" stroke="#000" stroke-width="0.45" font-size="35.2" textLength="42" lengthAdjust="spacingAndGlyphs">H3</text>
<text x="1873" y="722.1" text-anchor="middle" class="san" fill="#fff" stroke="#000" stroke-width="0.5" font-size="25" textLength="104" lengthAdjust="spacingAndGlyphs">Outgroup</text>
<text x="1269.6" y="456.1" text-anchor="middle" class="san" font-size="86.6" textLength="54.6" lengthAdjust="spacingAndGlyphs">A</text>
<text x="1468.3" y="456.1" text-anchor="middle" class="san" font-size="86.6" textLength="54.6" lengthAdjust="spacingAndGlyphs">B</text>
<text x="1666.6" y="456.1" text-anchor="middle" class="san" font-size="86.6" textLength="54.6" lengthAdjust="spacingAndGlyphs">B</text>
<text x="1862.6" y="456.1" text-anchor="middle" class="san" font-size="86.6" textLength="54.6" lengthAdjust="spacingAndGlyphs">A</text>
<text x="1270.1" y="876.4" text-anchor="middle" class="san" font-size="86.6" textLength="54.6" lengthAdjust="spacingAndGlyphs">B</text>
<text x="1467.7" y="876.4" text-anchor="middle" class="san" font-size="86.6" textLength="54.6" lengthAdjust="spacingAndGlyphs">A</text>
<text x="1666.6" y="876.4" text-anchor="middle" class="san" font-size="86.6" textLength="54.6" lengthAdjust="spacingAndGlyphs">B</text>
<text x="1862.6" y="876.4" text-anchor="middle" class="san" font-size="86.6" textLength="54.6" lengthAdjust="spacingAndGlyphs">A</text>
</svg>
</body></html>
